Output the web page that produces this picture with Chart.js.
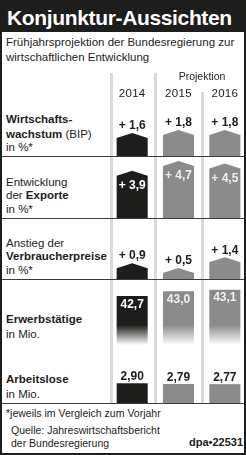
<!DOCTYPE html>
<html>
<head>
<meta charset="utf-8">
<script src="https://cdn.jsdelivr.net/npm/chart.js@4.4.1/dist/chart.umd.min.js"></script>
<style>
html, body { margin: 0; padding: 0; width: 246px; height: 455px; overflow: hidden; background: #fff; }
body { position: relative; font-family: "Liberation Sans", Arial, Helvetica, sans-serif; color: #1d1d1b; }
.txt { position: absolute; white-space: nowrap; line-height: 1; z-index: 4; }
#frame { position: absolute; left: 0; top: 0; width: 246px; height: 455px; box-sizing: border-box;
  border: 2px solid #1d1d1b; z-index: 6; pointer-events: none; }
#head { position: absolute; left: 0; top: 0; width: 246px; height: 32px; background: #1d1d1b; }
canvas { position: absolute; z-index: 2; }
.vl { position: absolute; width: 3px; background: #dadada; z-index: 1; }
.hl { position: absolute; left: 0; width: 246px; height: 1px; background: #3c3c3c; z-index: 3; }
</style>
</head>
<body>
<div id="head"></div>
<div id="frame"></div>
<div class="vl" style="left:110px;top:73px;height:330px"></div>
<div class="vl" style="left:154px;top:73px;height:330px"></div>
<div class="vl" style="left:201px;top:92px;height:311px"></div>
<div class="hl" style="top:156px"></div>
<div class="hl" style="top:218px"></div>
<div class="hl" style="top:279px"></div>
<div class="hl" style="top:403px"></div>

<script>
// data
const years = ["2014", "2015", "2016"];
const bipWachstum = [1.6, 1.8, 1.8];
const exporte = [3.9, 4.7, 4.5];
const verbraucherpreise = [0.9, 0.5, 1.4];
const erwerbstaetige = [42.7, 43.0, 43.1];
const arbeitslose = [2.90, 2.79, 2.77];

const barColors = ["#1d1d1b", "#8b8b8b", "#8b8b8b"];
const innerText = ["#ffffff", "#f0f0f0", "#f0f0f0"];

// one small chart per row; left/width shared
const CH_LEFT = 109, CH_W = 139;
const rows = [
  { values: bipWachstum, top: 100, height: 56, min: 0, max: 3.88, shape: "arrow", off: -8, dec: 1, plus: true },
  { values: exporte, top: 157, height: 61, min: 0, max: 5.03, shape: "arrow", off: 14, dec: 1, plus: true, inside: true },
  { values: verbraucherpreise, top: 219, height: 60, min: -0.45, max: 4.68, shape: "arrow", off: -8, dec: 1, plus: true },
  { values: erwerbstaetige, top: 280, height: 65, min: 39.54, max: 43.73, shape: "fade", off: 7.5, dec: 1, inside: true },
  { values: arbeitslose, top: 346, height: 57, min: 0, max: 8.38, shape: "rect", off: -7, dec: 2 }
];

function put(html, x, base, size, o = {}) {
  const d = document.createElement("div");
  d.className = "txt";
  d.innerHTML = html;
  d.style.fontSize = size + "px";
  d.style.top = (base - 0.8465 * size) + "px";
  if (o.bold) d.style.fontWeight = "bold";
  if (o.color) d.style.color = o.color;
  if (o.ls) d.style.letterSpacing = o.ls + "px";
  if (o.align === "center") { d.style.left = x + "px"; d.style.transform = "translateX(-50%)"; }
  else if (o.align === "right") { d.style.right = (246 - x) + "px"; }
  else d.style.left = x + "px";
  document.body.appendChild(d);
  return d;
}

function fmt(v, row) {
  const s = v.toFixed(row.dec).replace(".", ",");
  return row.plus ? "+ " + s : s;
}

function shapePlugin(row) {
  return {
    id: "barShape",
    beforeDatasetDraw(chart, args) {
      const ctx = chart.ctx;
      const bottom = chart.chartArea.bottom;
      args.meta.data.forEach((el, i) => {
        const { x, y, width } = el.getProps(["x", "y", "width"], true);
        const l = x - width / 2, r = x + width / 2;
        let fill = barColors[i];
        if (row.shape === "fade") {
          const g = ctx.createLinearGradient(0, bottom - 20, 0, bottom);
          g.addColorStop(0, barColors[i]);
          g.addColorStop(1, "#ffffff");
          fill = g;
        }
        ctx.save();
        ctx.fillStyle = fill;
        ctx.beginPath();
        if (row.shape === "arrow") {
          ctx.moveTo(l, bottom);
          ctx.lineTo(l, y + 5);
          ctx.lineTo(x, y);
          ctx.lineTo(r, y + 5);
          ctx.lineTo(r, bottom);
        } else {
          ctx.rect(l, y, width, bottom - y);
        }
        ctx.closePath();
        ctx.fill();
        ctx.restore();
      });
      return false;
    }
  };
}

const charts = rows.map(row => {
  const cv = document.createElement("canvas");
  cv.width = CH_W; cv.height = row.height;
  cv.style.left = CH_LEFT + "px"; cv.style.top = row.top + "px";
  cv.style.width = CH_W + "px"; cv.style.height = row.height + "px";
  document.body.appendChild(cv);
  const chart = new Chart(cv.getContext("2d"), {
    type: "bar",
    data: {
      labels: years,
      datasets: [{ data: row.values, backgroundColor: barColors, categoryPercentage: 1, barPercentage: 0.67 }]
    },
    options: {
      responsive: false, animation: false, events: [],
      devicePixelRatio: 1,
      layout: { padding: 0 },
      plugins: { legend: { display: false }, tooltip: { enabled: false } },
      scales: {
        x: { display: false },
        y: { display: false, min: row.min, max: row.max }
      }
    },
    plugins: [shapePlugin(row)]
  });
  // value labels
  chart.getDatasetMeta(0).data.forEach((el, i) => {
    const cy = row.top + el.y + row.off;
    put(fmt(row.values[i], row), CH_LEFT + el.x, cy + 0.358 * 12, 12,
      { bold: true, align: "center", color: row.inside ? innerText[i] : "#1d1d1b" });
  });
  return chart;
});

// year labels from first chart's category positions
charts[0].getDatasetMeta(0).data.forEach((el, i) => {
  put(years[i], CH_LEFT + el.x, 97.5, 11.5, { align: "center", ls: 0.3 });
});

// texts
put("Konjunktur-Aussichten", 7, 25, 21, { bold: true, color: "#fff", ls: -0.35 });
put("Frühjahrsprojektion der Bundesregierung zur", 6, 46.7, 11.5);
put("wirtschaftlichen Entwicklung", 6, 62, 11.5);
put("Projektion", 202, 80, 10.5, { align: "center" });

put("<b>Wirtschafts-</b>", 6, 123.3, 11.5);
put("<b>wachstum</b> (BIP)", 6, 138.3, 11.5);
put("in %*", 6, 152, 11.5);
put("Entwicklung", 6, 186.7, 11.5);
put("der <b>Exporte</b>", 6, 200, 11.5);
put("in %*", 6, 213.3, 11.5);
put("Anstieg der", 6, 247.3, 11.5);
put("<b>Verbraucherpreise</b>", 6, 261, 11.5);
put("in %*", 6, 274.3, 11.5);
put("<b>Erwerbstätige</b>", 6, 323.3, 11.5);
put("in Mio.", 6, 338.3, 11.5);
put("<b>Arbeitslose</b>", 6, 384, 11.5);
put("in Mio.", 6, 398.3, 11.5);

put("*jeweils im Vergleich zum Vorjahr", 6, 417.3, 10.5);
put("Quelle: Jahreswirtschaftsbericht", 11, 434.3, 10.5);
put("der Bundesregierung", 11, 446.7, 10.5);
put("dpa•22531", 243, 446.7, 11, { bold: true, align: "right" });
</script>
</body>
</html>
